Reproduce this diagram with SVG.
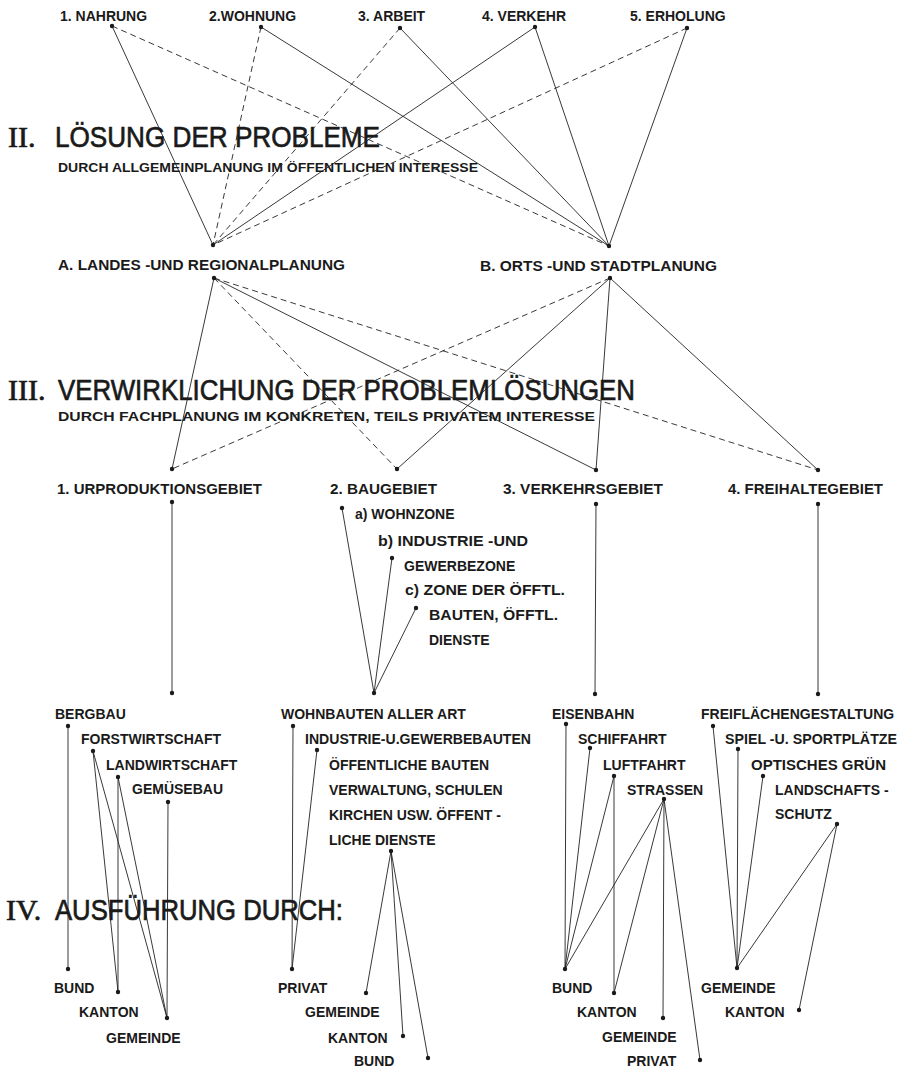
<svg xmlns="http://www.w3.org/2000/svg" width="901" height="1068" viewBox="0 0 901 1068">
<style>
  .bg{fill:#ffffff}
  .lbl{font-family:"Liberation Sans",Arial,sans-serif;font-weight:bold;font-size:14px;fill:#1a1a1a}
  .sub{font-family:"Liberation Sans",Arial,sans-serif;font-weight:bold;font-size:12.5px;fill:#1a1a1a}
  .hd{font-family:"Liberation Sans",Arial,sans-serif;font-size:30px;fill:#1a1a1a;stroke:#1a1a1a;stroke-width:0.7}
  .rn{font-family:"Liberation Serif","Times New Roman",serif;font-size:30px;fill:#1a1a1a;stroke:#1a1a1a;stroke-width:0.7}
  .dot{fill:#1a1a1a}
  .s{stroke:#222;stroke-width:0.9;fill:none}
  .d{stroke:#222;stroke-width:0.9;fill:none;stroke-dasharray:6 4}
</style>
<rect class="bg" x="0" y="0" width="901" height="1068"/>

<g id="connectors">
  <line class="s" x1="112" y1="26" x2="213" y2="245"/>
  <line class="d" x1="112" y1="26" x2="609" y2="246"/>
  <line class="d" x1="261" y1="27" x2="213" y2="245"/>
  <line class="s" x1="261" y1="27" x2="609" y2="246"/>
  <line class="d" x1="400" y1="28" x2="213" y2="245"/>
  <line class="s" x1="400" y1="28" x2="609" y2="246"/>
  <line class="s" x1="535" y1="27" x2="213" y2="245"/>
  <line class="s" x1="535" y1="27" x2="609" y2="246"/>
  <line class="d" x1="687" y1="28" x2="213" y2="245"/>
  <line class="s" x1="687" y1="28" x2="609" y2="246"/>
  <line class="s" x1="214" y1="278" x2="172" y2="469"/>
  <line class="d" x1="214" y1="278" x2="397" y2="469"/>
  <line class="s" x1="214" y1="278" x2="596" y2="470"/>
  <line class="d" x1="214" y1="278" x2="818" y2="470"/>
  <line class="d" x1="610" y1="278" x2="172" y2="469"/>
  <line class="s" x1="610" y1="278" x2="397" y2="469"/>
  <line class="s" x1="610" y1="278" x2="596" y2="470"/>
  <line class="s" x1="610" y1="278" x2="818" y2="470"/>
  <line class="s" x1="172" y1="502" x2="172" y2="693"/>
  <line class="s" x1="596" y1="504" x2="595" y2="694"/>
  <line class="s" x1="818" y1="504" x2="818" y2="694"/>
  <line class="s" x1="342" y1="508" x2="374" y2="693"/>
  <line class="s" x1="392" y1="558" x2="374" y2="693"/>
  <line class="s" x1="416" y1="608" x2="374" y2="693"/>
  <line class="s" x1="68" y1="726" x2="68" y2="969"/>
  <line class="s" x1="93" y1="751" x2="118" y2="992"/>
  <line class="s" x1="93" y1="751" x2="167" y2="1018"/>
  <line class="s" x1="118" y1="777" x2="118" y2="992"/>
  <line class="s" x1="118" y1="777" x2="167" y2="1018"/>
  <line class="s" x1="168" y1="802" x2="167" y2="1018"/>
  <line class="s" x1="293" y1="726" x2="292" y2="969"/>
  <line class="s" x1="317" y1="750" x2="292" y2="969"/>
  <line class="s" x1="391" y1="851" x2="366" y2="993"/>
  <line class="s" x1="391" y1="851" x2="403" y2="1036"/>
  <line class="s" x1="391" y1="851" x2="428" y2="1058"/>
  <line class="s" x1="566" y1="724" x2="565" y2="969"/>
  <line class="s" x1="590" y1="748" x2="565" y2="969"/>
  <line class="s" x1="614" y1="776" x2="565" y2="969"/>
  <line class="s" x1="614" y1="776" x2="614" y2="993"/>
  <line class="s" x1="664" y1="799" x2="565" y2="969"/>
  <line class="s" x1="664" y1="799" x2="614" y2="993"/>
  <line class="s" x1="664" y1="799" x2="663" y2="1018"/>
  <line class="s" x1="664" y1="799" x2="700" y2="1060"/>
  <line class="s" x1="713" y1="726" x2="737" y2="968"/>
  <line class="s" x1="738" y1="749" x2="737" y2="968"/>
  <line class="s" x1="763" y1="776" x2="737" y2="968"/>
  <line class="s" x1="837" y1="824" x2="737" y2="968"/>
  <line class="s" x1="837" y1="824" x2="799" y2="1010"/>
</g>

<g id="headings">
  <g id="h2">
    <text class="rn" x="8" y="147">II.</text>
    <text class="hd" x="55" y="147" textLength="325" lengthAdjust="spacingAndGlyphs">LÖSUNG DER PROBLEME</text>
    <text class="sub" x="58" y="172" textLength="420" lengthAdjust="spacingAndGlyphs">DURCH ALLGEMEINPLANUNG IM ÖFFENTLICHEN INTERESSE</text>
  </g>
  <g id="h3">
    <text class="rn" x="8" y="400">III.</text>
    <text class="hd" x="58" y="400" textLength="577" lengthAdjust="spacingAndGlyphs">VERWIRKLICHUNG DER PROBLEMLÖSUNGEN</text>
    <text class="sub" x="58" y="421" textLength="537" lengthAdjust="spacingAndGlyphs">DURCH FACHPLANUNG IM KONKRETEN, TEILS PRIVATEM INTERESSE</text>
  </g>
  <g id="h4">
    <text class="rn" x="6" y="920">IV.</text>
    <text class="hd" x="55" y="920" textLength="288" lengthAdjust="spacingAndGlyphs">AUSFÜHRUNG DURCH:</text>
  </g>
</g>

<g id="needs">
  <g id="n1"><text class="lbl" x="60" y="21">1. NAHRUNG</text><circle class="dot" cx="112" cy="26" r="2.2"/></g>
  <g id="n2"><text class="lbl" x="209" y="21">2.WOHNUNG</text><circle class="dot" cx="261" cy="27" r="2.2"/></g>
  <g id="n3"><text class="lbl" x="358" y="21">3. ARBEIT</text><circle class="dot" cx="400" cy="28" r="2.2"/></g>
  <g id="n4"><text class="lbl" x="482" y="21">4. VERKEHR</text><circle class="dot" cx="535" cy="27" r="2.2"/></g>
  <g id="n5"><text class="lbl" x="630" y="21">5. ERHOLUNG</text><circle class="dot" cx="687" cy="28" r="2.2"/></g>
</g>

<g id="planning">
  <g id="pA">
    <circle class="dot" cx="213" cy="245" r="2.2"/>
    <text class="lbl" x="58" y="270" textLength="287" lengthAdjust="spacingAndGlyphs">A. LANDES -UND REGIONALPLANUNG</text>
    <circle class="dot" cx="214" cy="278" r="2.2"/>
  </g>
  <g id="pB">
    <circle class="dot" cx="609" cy="246" r="2.2"/>
    <text class="lbl" x="480" y="271" textLength="237" lengthAdjust="spacingAndGlyphs">B. ORTS -UND STADTPLANUNG</text>
    <circle class="dot" cx="610" cy="278" r="2.2"/>
  </g>
</g>

<g id="areas">
  <g id="g1">
    <circle class="dot" cx="172" cy="469" r="2.2"/>
    <text class="lbl" x="57" y="494" textLength="205" lengthAdjust="spacingAndGlyphs">1. URPRODUKTIONSGEBIET</text>
    <circle class="dot" cx="172" cy="502" r="2.2"/>
    <circle class="dot" cx="172" cy="693" r="2.2"/>
  </g>
  <g id="g2">
    <circle class="dot" cx="397" cy="469" r="2.2"/>
    <text class="lbl" x="330" y="494" textLength="107" lengthAdjust="spacingAndGlyphs">2. BAUGEBIET</text>
    <circle class="dot" cx="342" cy="508" r="2.2"/>
    <text class="lbl" x="355" y="519">a) WOHNZONE</text>
    <text class="lbl" x="378" y="546" textLength="150" lengthAdjust="spacingAndGlyphs">b) INDUSTRIE -UND</text>
    <circle class="dot" cx="392" cy="558" r="2.2"/>
    <text class="lbl" x="404" y="571">GEWERBEZONE</text>
    <text class="lbl" x="405" y="595" textLength="160" lengthAdjust="spacingAndGlyphs">c) ZONE DER ÖFFTL.</text>
    <circle class="dot" cx="416" cy="608" r="2.2"/>
    <text class="lbl" x="429" y="620" textLength="129" lengthAdjust="spacingAndGlyphs">BAUTEN, ÖFFTL.</text>
    <text class="lbl" x="429" y="645">DIENSTE</text>
    <circle class="dot" cx="374" cy="693" r="2.2"/>
  </g>
  <g id="g3">
    <circle class="dot" cx="596" cy="470" r="2.2"/>
    <text class="lbl" x="503" y="494" textLength="160" lengthAdjust="spacingAndGlyphs">3. VERKEHRSGEBIET</text>
    <circle class="dot" cx="596" cy="504" r="2.2"/>
    <circle class="dot" cx="595" cy="694" r="2.2"/>
  </g>
  <g id="g4">
    <circle class="dot" cx="818" cy="470" r="2.2"/>
    <text class="lbl" x="728" y="494" textLength="155" lengthAdjust="spacingAndGlyphs">4. FREIHALTEGEBIET</text>
    <circle class="dot" cx="818" cy="504" r="2.2"/>
    <circle class="dot" cx="818" cy="694" r="2.2"/>
  </g>
</g>

<g id="uses">
  <g id="u-bergbau"><text class="lbl" x="55" y="719">BERGBAU</text><circle class="dot" cx="68" cy="726" r="2.2"/></g>
  <g id="u-forst"><text class="lbl" x="81" y="744">FORSTWIRTSCHAFT</text><circle class="dot" cx="93" cy="751" r="2.2"/></g>
  <g id="u-landw"><text class="lbl" x="106" y="770">LANDWIRTSCHAFT</text><circle class="dot" cx="118" cy="777" r="2.2"/></g>
  <g id="u-gemuese"><text class="lbl" x="132" y="794">GEMÜSEBAU</text><circle class="dot" cx="168" cy="802" r="2.2"/></g>

  <g id="u-wohnbauten"><text class="lbl" x="281" y="719">WOHNBAUTEN ALLER ART</text><circle class="dot" cx="293" cy="726" r="2.2"/></g>
  <g id="u-industrie"><text class="lbl" x="305" y="744" textLength="226" lengthAdjust="spacingAndGlyphs">INDUSTRIE-U.GEWERBEBAUTEN</text><circle class="dot" cx="317" cy="750" r="2.2"/></g>
  <g id="u-oeffentlich">
    <text class="lbl" x="329" y="770">ÖFFENTLICHE BAUTEN</text>
    <text class="lbl" x="329" y="795">VERWALTUNG, SCHULEN</text>
    <text class="lbl" x="329" y="820">KIRCHEN USW. ÖFFENT -</text>
    <text class="lbl" x="329" y="845">LICHE DIENSTE</text>
    <circle class="dot" cx="391" cy="851" r="2.2"/>
  </g>

  <g id="u-eisenbahn"><text class="lbl" x="552" y="719">EISENBAHN</text><circle class="dot" cx="566" cy="724" r="2.2"/></g>
  <g id="u-schiffahrt"><text class="lbl" x="578" y="744">SCHIFFAHRT</text><circle class="dot" cx="590" cy="748" r="2.2"/></g>
  <g id="u-luftfahrt"><text class="lbl" x="603" y="770">LUFTFAHRT</text><circle class="dot" cx="614" cy="776" r="2.2"/></g>
  <g id="u-strassen"><text class="lbl" x="627" y="795">STRASSEN</text><circle class="dot" cx="664" cy="799" r="2.2"/></g>

  <g id="u-freiflaechen"><text class="lbl" x="701" y="719">FREIFLÄCHENGESTALTUNG</text><circle class="dot" cx="713" cy="726" r="2.2"/></g>
  <g id="u-spiel"><text class="lbl" x="725" y="744" textLength="172" lengthAdjust="spacingAndGlyphs">SPIEL -U. SPORTPLÄTZE</text><circle class="dot" cx="738" cy="749" r="2.2"/></g>
  <g id="u-optisch"><text class="lbl" x="751" y="770" textLength="135" lengthAdjust="spacingAndGlyphs">OPTISCHES GRÜN</text><circle class="dot" cx="763" cy="776" r="2.2"/></g>
  <g id="u-landschaft">
    <text class="lbl" x="775" y="795">LANDSCHAFTS -</text>
    <text class="lbl" x="775" y="819">SCHUTZ</text>
    <circle class="dot" cx="837" cy="824" r="2.2"/>
  </g>
</g>

<g id="executors">
  <g id="e1-bund"><circle class="dot" cx="68" cy="969" r="2.2"/><text class="lbl" x="54" y="993">BUND</text></g>
  <g id="e1-kanton"><circle class="dot" cx="118" cy="992" r="2.2"/><text class="lbl" x="79" y="1017">KANTON</text></g>
  <g id="e1-gemeinde"><circle class="dot" cx="167" cy="1018" r="2.2"/><text class="lbl" x="106" y="1043">GEMEINDE</text></g>

  <g id="e2-privat"><circle class="dot" cx="292" cy="969" r="2.2"/><text class="lbl" x="278" y="993">PRIVAT</text></g>
  <g id="e2-gemeinde"><circle class="dot" cx="366" cy="993" r="2.2"/><text class="lbl" x="305" y="1017">GEMEINDE</text></g>
  <g id="e2-kanton"><circle class="dot" cx="403" cy="1036" r="2.2"/><text class="lbl" x="328" y="1043">KANTON</text></g>
  <g id="e2-bund"><circle class="dot" cx="428" cy="1058" r="2.2"/><text class="lbl" x="354" y="1066">BUND</text></g>

  <g id="e3-bund"><circle class="dot" cx="565" cy="969" r="2.2"/><text class="lbl" x="552" y="993">BUND</text></g>
  <g id="e3-kanton"><circle class="dot" cx="614" cy="993" r="2.2"/><text class="lbl" x="577" y="1017">KANTON</text></g>
  <g id="e3-gemeinde"><circle class="dot" cx="663" cy="1018" r="2.2"/><text class="lbl" x="602" y="1042">GEMEINDE</text></g>
  <g id="e3-privat"><circle class="dot" cx="700" cy="1060" r="2.2"/><text class="lbl" x="627" y="1066">PRIVAT</text></g>

  <g id="e4-gemeinde"><circle class="dot" cx="737" cy="968" r="2.2"/><text class="lbl" x="701" y="993">GEMEINDE</text></g>
  <g id="e4-kanton"><circle class="dot" cx="799" cy="1010" r="2.2"/><text class="lbl" x="725" y="1017">KANTON</text></g>
</g>
</svg>
